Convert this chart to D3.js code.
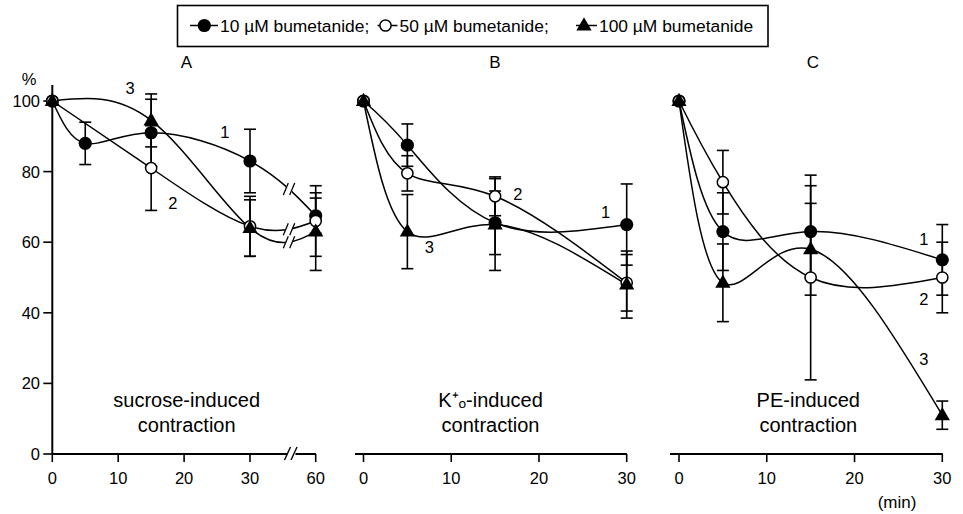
<!DOCTYPE html>
<html>
<head>
<meta charset="utf-8">
<script src="https://cdn.jsdelivr.net/npm/d3@7/dist/d3.min.js"></script>
<style>
  html, body { margin: 0; padding: 0; background: #fff; }
  svg { display: block; }
  text { font-family: "Liberation Sans", Arial, Helvetica, sans-serif; fill: #000; }
</style>
</head>
<body>
<svg id="chart" width="963" height="514"></svg>
<script>
// ---- data -------------------------------------------------------------
const seriesNames = ["10 µM bumetanide;", "50 µM bumetanide;", "100 µM bumetanide"];
const yTicks = [0, 20, 40, 60, 80, 100];
const xTicksA = [0, 10, 20, 30, 60];
const xTicksBC = [0, 10, 20, 30];
const panelTitles = ["A", "B", "C"];
const panelNotes = [
  ["sucrose-induced", "contraction"],
  ["K⁺ₒ-induced", "contraction"],
  ["PE-induced", "contraction"]
];

// panel A: sucrose
const tA1 = [0, 5, 15, 30, 60];
const vA1 = [100, 88, 91, 83, 67.5];
const eA1 = [0, 6, 9.5, 9, 5];
const tA2 = [0, 15, 30, 60];
const vA2 = [100, 81, 64.5, 66];
const eA2 = [0, 12, 8.5, 10];
const tA3 = [0, 15, 30, 60];
const vA3 = [100, 94.5, 64, 63];
const eA3 = [0, 7.5, 8, 11];

// panel B: K+o
const tB = [0, 5, 15, 30];
const vB1 = [100, 87.5, 65.5, 65];
const eB1 = [0, 6, 9, 11.5];
const vB2 = [100, 79.5, 73, 48.5];
const eB2 = [0, 5, 5.5, 8];
const vB3 = [100, 63, 65, 48];
const eB3 = [0, 10.5, 13, 9.5];

// panel C: PE
const tC = [0, 5, 15, 30];
const vC1 = [100, 63, 63, 55];
const eC1 = [0, 11, 13, 10];
const vC2 = [100, 77, 50, 50];
const eC2 = [0, 9, 29, 10];
const vC3 = [100, 48.5, 58, 11];
const eC3 = [0, 11, 13, 4];

// curve number labels: [panel, label, time, value]
const curveLabels = [
  [0, "3", 11.8, 103.7], [0, "1", 26.2, 91.3], [0, "2", 18.3, 71],
  [1, "2", 17.6, 73.6], [1, "1", 27.6, 68.6], [1, "3", 7.5, 58.7],
  [2, "1", 27.9, 61], [2, "2", 27.9, 43.8], [2, "3", 27.9, 26.9]
];

const panels = [
  { series: [[tA1, vA1, eA1], [tA2, vA2, eA2], [tA3, vA3, eA3]] },
  { series: [[tB, vB1, eB1], [tB, vB2, eB2], [tB, vB3, eB3]] },
  { series: [[tC, vC1, eC1], [tC, vC2, eC2], [tC, vC3, eC3]] }
];

// ---- layout -----------------------------------------------------------
const svg = d3.select("#chart");
const FONT_TICK = 16.5;
const y = d3.scaleLinear().domain([0, 100]).range([454, 101]);
const xScales = [
  d3.scaleLinear().domain([0, 30, 60]).range([52.3, 250, 315.7]),
  d3.scaleLinear().domain([0, 30]).range([363.5, 626.7]),
  d3.scaleLinear().domain([0, 30]).range([679, 942.3])
];
const axisSpan = [[52.3, 316], [355, 627], [670, 942.8]];
const titleX = [186.5, 495, 813];
const noteX = [186.7, 490.5, 808.3];
const curve = d3.curveNatural;

const trianglePath = "M0,-8.2L7.6,5L-7.6,5Z";

// ---- legend -------------------------------------------------------
const lg = svg.append("g");
lg.append("rect").attr("x", 177.5).attr("y", 5.5).attr("width", 590.5).attr("height", 41)
  .attr("fill", "none").attr("stroke", "#000").attr("stroke-width", 1.6);
const legendItems = [
  { cx: 204.3, x0: 190, x1: 218, tx: 220 },
  { cx: 385.5, x0: 377.5, x1: 397.5, tx: 399.5 },
  { cx: 584, x0: 576, x1: 597, tx: 599 }
];
legendItems.forEach((it, i) => {
  lg.append("line").attr("x1", it.x0).attr("x2", it.x1).attr("y1", 25.5).attr("y2", 25.5)
    .attr("stroke", "#000").attr("stroke-width", 1.5);
  drawMarker(lg, i, it.cx, 25.5);
  lg.append("text").attr("x", it.tx).attr("y", 31.5).attr("font-size", 17.4).text(seriesNames[i]);
});

function drawMarker(g, i, cx, cy) {
  if (i === 0) {
    g.append("circle").attr("cx", cx).attr("cy", cy).attr("r", 6.6).attr("fill", "#000");
  } else if (i === 1) {
    g.append("circle").attr("cx", cx).attr("cy", cy).attr("r", 5.6)
      .attr("fill", "#fff").attr("stroke", "#000").attr("stroke-width", 1.5);
  } else {
    g.append("path").attr("d", trianglePath).attr("transform", `translate(${cx},${cy})`)
      .attr("fill", "#000");
  }
}

// ---- y axis (panel A only) ------------------------------------------------
const ya = svg.append("g");
ya.append("line").attr("x1", 52.3).attr("x2", 52.3).attr("y1", 85).attr("y2", 454.5)
  .attr("stroke", "#000").attr("stroke-width", 2);
yTicks.forEach(v => {
  ya.append("line").attr("x1", 43.3).attr("x2", 52.3).attr("y1", y(v)).attr("y2", y(v))
    .attr("stroke", "#000").attr("stroke-width", 1.6);
  ya.append("text").attr("x", 40).attr("y", y(v)).attr("dy", "0.36em")
    .attr("text-anchor", "end").attr("font-size", FONT_TICK).text(v);
});
ya.append("text").attr("x", 29).attr("y", 85).attr("text-anchor", "middle")
  .attr("font-size", FONT_TICK).text("%");

// ---- panels -----------------------------------------------------------
panels.forEach((p, pi) => {
  const x = xScales[pi];
  const g = svg.append("g");

  // x axis
  const ticks = pi === 0 ? xTicksA : xTicksBC;
  const ax = g.append("g");
  if (pi === 0) {
    ax.append("line").attr("x1", axisSpan[0][0]).attr("x2", 287.5).attr("y1", 454).attr("y2", 454)
      .attr("stroke", "#000").attr("stroke-width", 2);
    ax.append("line").attr("x1", 295.5).attr("x2", axisSpan[0][1]).attr("y1", 454).attr("y2", 454)
      .attr("stroke", "#000").attr("stroke-width", 2);
    [287.5, 294].forEach(bx => {
      ax.append("line").attr("x1", bx - 3).attr("x2", bx + 3).attr("y1", 460).attr("y2", 447)
        .attr("stroke", "#000").attr("stroke-width", 1.4);
    });
  } else {
    ax.append("line").attr("x1", axisSpan[pi][0]).attr("x2", axisSpan[pi][1]).attr("y1", 454).attr("y2", 454)
      .attr("stroke", "#000").attr("stroke-width", 2);
  }
  ticks.forEach(t => {
    ax.append("line").attr("x1", x(t)).attr("x2", x(t)).attr("y1", 454).attr("y2", 462)
      .attr("stroke", "#000").attr("stroke-width", 1.6);
    ax.append("text").attr("x", x(t)).attr("y", 484).attr("text-anchor", "middle")
      .attr("font-size", FONT_TICK).text(t);
  });

  // panel title and note
  g.append("text").attr("x", titleX[pi]).attr("y", 67.5).attr("text-anchor", "middle")
    .attr("font-size", 17).text(panelTitles[pi]);
  panelNotes[pi].forEach((line, li) => {
    g.append("text").attr("x", noteX[pi]).attr("y", 407 + li * 25).attr("text-anchor", "middle")
      .attr("font-size", 20).text(line);
  });

  // curves
  const line = d3.line().x(d => x(d[0])).y(d => y(d[1])).curve(curve);
  const paths = p.series.map(([ts, vs]) => {
    const pts = ts.map((t, k) => [t, vs[k]]);
    return g.append("path").attr("d", line(pts)).attr("fill", "none")
      .attr("stroke", "#000").attr("stroke-width", 1.5);
  });

  // scale breaks on the curves between 30 and 60 min
  if (pi === 0) {
    const bx = 289;
    paths.forEach(path => {
      const node = path.node();
      const len = node.getTotalLength();
      let best = null;
      for (let l = len * 0.5; l <= len; l += 0.25) {
        const pt = node.getPointAtLength(l);
        if (!best || Math.abs(pt.x - bx) < Math.abs(best.x - bx)) best = pt;
      }
      const by = best.y;
      g.append("rect").attr("x", bx - 3).attr("y", by - 4).attr("width", 6).attr("height", 8)
        .attr("fill", "#fff");
      [bx - 3.2, bx + 3.2].forEach(sx => {
        g.append("line").attr("x1", sx - 2.5).attr("x2", sx + 2.5).attr("y1", by + 6).attr("y2", by - 6)
          .attr("stroke", "#000").attr("stroke-width", 1.3);
      });
    });
  }

  // error bars
  p.series.forEach(([ts, vs, es]) => {
    ts.forEach((t, k) => {
      if (!es[k]) return;
      const cx = x(t);
      const y0 = y(vs[k] + es[k]), y1 = y(vs[k] - es[k]);
      g.append("line").attr("x1", cx).attr("x2", cx).attr("y1", y0).attr("y2", y1)
        .attr("stroke", "#000").attr("stroke-width", 1.6);
      [y0, y1].forEach(yy => {
        g.append("line").attr("x1", cx - 6).attr("x2", cx + 6).attr("y1", yy).attr("y2", yy)
          .attr("stroke", "#000").attr("stroke-width", 1.6);
      });
    });
  });

  // markers
  p.series.forEach(([ts, vs], si) => {
    ts.forEach((t, k) => drawMarker(g, si, x(t), y(vs[k])));
  });
});

// curve numbers
curveLabels.forEach(([pi, lab, t, v]) => {
  svg.append("text").attr("x", xScales[pi](t)).attr("y", y(v)).attr("dy", "0.36em")
    .attr("text-anchor", "middle").attr("font-size", FONT_TICK).text(lab);
});

// time unit
svg.append("text").attr("x", 897).attr("y", 507.5).attr("text-anchor", "middle")
  .attr("font-size", 17).text("(min)");
</script>
</body>
</html>
